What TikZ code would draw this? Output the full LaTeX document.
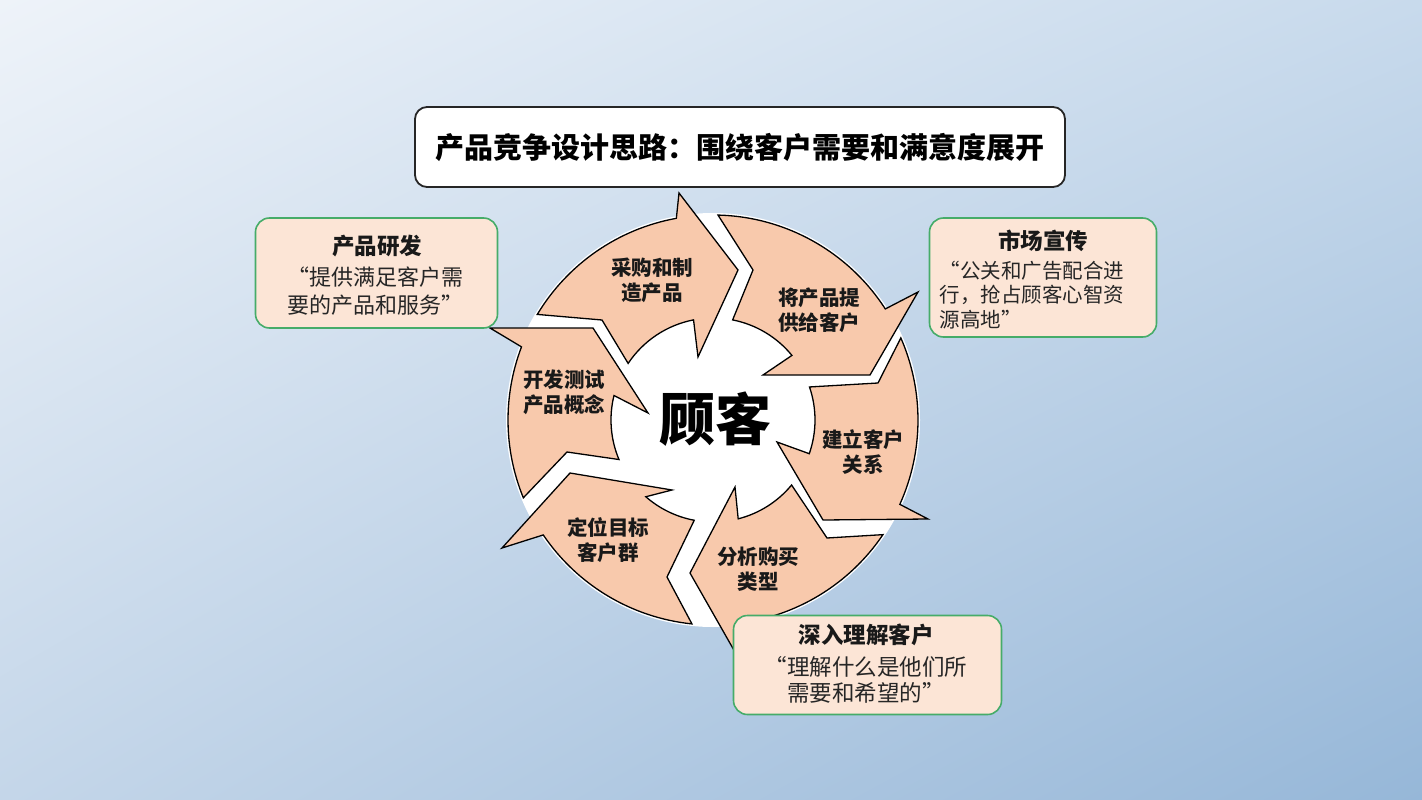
\documentclass[tikz,border=0pt]{standalone}
\usepackage{fontspec}
\usetikzlibrary{shadings}
\newfontfamily\cjk{Noto Sans CJK SC}
\definecolor{segfill}{RGB}{248,201,172}
\definecolor{boxfill}{RGB}{252,229,214}
\definecolor{boxgreen}{RGB}{70,172,105}
\definecolor{bgTL}{RGB}{238,243,249}
\definecolor{bgTR}{RGB}{200,218,236}
\definecolor{bgBL}{RGB}{196,214,233}
\definecolor{bgBR}{RGB}{150,183,216}
\begin{document}
\begin{tikzpicture}[x=1pt,y=-1pt,
  seg/.style={draw=black, line width=1.3pt, fill=segfill, line join=miter},
  lab/.style={font=\cjk\bfseries\fontsize{20.5}{25}\selectfont, align=center, text=black!90},
  infobox/.style={draw=boxgreen, line width=1.6pt, fill=boxfill, rounded corners=14pt, inner sep=0pt},
  boxtitle/.style={font=\cjk\bfseries\fontsize{22.5}{27}\selectfont, text=black!90},
  boxbody/.style={font=\cjk\fontsize{22}{28.5}\selectfont, text=black!85, align=center},
  titlebox/.style={draw=black!85, line width=1.8pt, fill=white, rounded corners=12pt,
    minimum width=650pt, minimum height=80pt, inner sep=0pt,
    font=\cjk\bfseries\fontsize{29}{34}\selectfont}]
\useasboundingbox (0,0) rectangle (1422,800);
\shade[upper left=bgTL, upper right=bgTR, lower left=bgBL, lower right=bgBR] (0,0) rectangle (1422,800);

% title
\node[titlebox] (title) at (740,147) {产品竞争设计思路：围绕客户需要和满意度展开};

% white disc behind the cycle
\fill[white] (713,420) circle[radius=207];

% six curved arrow segments (local coordinates, y up, centre of the ring at origin)
\begin{scope}[shift={(713,420)}, yscale=-1]
  % 1 采购和制造产品
  \draw[seg] (149:205) arc[start angle=149, end angle=100.3, radius=205]
    -- (-34,227) -- (25,150) -- (-15,63)
    -- (101:102) arc[start angle=101, end angle=146.3, radius=102]
    -- (-111,100) -- cycle;
  % 2 将产品提供给客户
  \draw[seg] (88.6:205) arc[start angle=88.6, end angle=32.8, radius=205]
    -- (205,128) -- (157,45) -- (50,45)
    -- (39.3:102) arc[start angle=39.3, end angle=78.9, radius=102]
    -- (40,150) -- cycle;
  % 3 建立客户关系
  \draw[seg] (23.6:205) arc[start angle=23.6, end angle=-24.3, radius=205]
    -- (215,-99) -- (110,-100) -- (64,-22)
    -- (-19.3:102) arc[start angle=-19.3, end angle=18.9, radius=102]
    -- (165,37) -- cycle;
  % 4 分析购买类型
  \draw[seg] (-34:205) arc[start angle=-34, end angle=-83.8, radius=205]
    -- (22,-232) -- (-23,-153) -- (22,-67)
    -- (-75.7:102) arc[start angle=-75.7, end angle=-39.6, radius=102]
    -- (114,-118) -- cycle;
  % 5 定位目标客户群
  \draw[seg] (-95.9:205) arc[start angle=-95.9, end angle=-145.9, radius=205]
    -- (-211,-128) -- (-143,-53) -- (-41,-70)
    -- (-131.2:102) arc[start angle=-131.2, end angle=-100.6, radius=102]
    -- (-46,-157) -- cycle;
  % 6 开发测试产品概念
  \draw[seg] (202.3:205) arc[start angle=202.3, end angle=159.1, radius=205]
    -- (-223,92) -- (-120,92) -- (-65,7)
    -- (166.1:102) arc[start angle=166.1, end angle=202.8, radius=102]
    -- (-146,-32) -- cycle;
\end{scope}

% centre
\node[font=\cjk\bfseries\fontsize{56}{60}\selectfont] (center) at (715,419) {顾客};

% segment labels
\node[lab] (s1) at (652,280) {采购和制\\造产品};
\node[lab] (s2) at (819,310) {将产品提\\供给客户};
\node[lab] (s3) at (863,452) {建立客户\\关系};
\node[lab] (s4) at (758,569) {分析购买\\类型};
\node[lab] (s5) at (608,540) {定位目标\\客户群};
\node[lab] (s6) at (564,392) {开发测试\\产品概念};

% info boxes
\node[infobox, minimum width=242pt, minimum height=110pt] (b1) at (376.5,273) {};
\node[boxtitle] (b1t) at (377,246) {产品研发};
\node[boxbody] (b1b) at (375,291) {“提供满足客户需\\要的产品和服务”};

\node[infobox, minimum width=227pt, minimum height=119pt] (b2) at (1043,277.5) {};
\node[boxtitle] (b2t) at (1043,241) {市场宣传};
\node[boxbody, align=left, anchor=west, font=\cjk\fontsize{20.5}{24.5}\selectfont] (b2b) at (936,295) {“公关和广告配合进\\行，抢占顾客心智资\\源高地”};

\node[infobox, minimum width=268pt, minimum height=99pt] (b3) at (867.5,665) {};
\node[boxtitle] (b3t) at (866,635) {深入理解客户};
\node[boxbody, font=\cjk\fontsize{22.5}{25.5}\selectfont] (b3b) at (866,680) {“理解什么是他们所\\需要和希望的”};
\end{tikzpicture}
\end{document}
